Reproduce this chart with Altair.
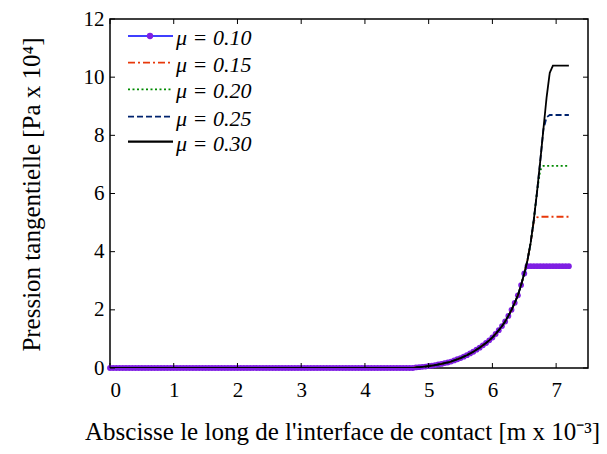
import altair as alt
import pandas as pd

# sampling grid of the curves (m x 10^-3), step 0.05 from 0 to 7.2
x_vals = [round(i * 0.05, 2) for i in range(145)]

# values (Pa x 10^4)
flat = [0.0] * 96  # x = 0.00 .. 4.75
rise = [0.02, 0.03, 0.04, 0.05, 0.07, 0.08, 0.10, 0.12, 0.14, 0.17,
        0.19, 0.22, 0.26, 0.30, 0.34, 0.39, 0.44, 0.50, 0.56, 0.63,
        0.70, 0.78, 0.86, 0.95, 1.05, 1.17, 1.30, 1.44, 1.60, 1.79,
        2.00, 2.24, 2.50, 2.85, 3.25]  # x = 4.80 .. 6.50

mu010 = flat + rise + [3.50] * 14
mu015 = flat + rise + [3.70, 4.30, 5.05, 5.18] + [5.20] * 10
mu020 = flat + rise + [3.70, 4.30, 5.10, 6.05, 6.80] + [6.95] * 9
mu025 = flat + rise + [3.70, 4.30, 5.10, 6.05, 7.10, 8.20, 8.62] + [8.70] * 7
mu030 = flat + rise + [3.70, 4.30, 5.10, 6.05, 7.10, 8.20, 9.30, 10.15, 10.40] + [10.40] * 5

labels = ["μ = 0.10", "μ = 0.15", "μ = 0.20", "μ = 0.25", "μ = 0.30"]
series = [mu010, mu015, mu020, mu025, mu030]
colors = ["#0000FF", "#E8380A", "#008A00", "#00236E", "#000000"]
dashes = [[1, 0], [7, 3, 2, 3], [2, 2.5], [6, 3], [1, 0]]
widths = [1.3, 1.8, 1.8, 1.7, 2.2]

y_ticks = [0, 2, 4, 6, 8, 10, 12]
x_ticks = [0, 1, 2, 3, 4, 5, 6, 7]

rows = []
for lab, ys in zip(labels, series):
    for xv, yv in zip(x_vals, ys):
        rows.append({"x": xv, "y": yv, "mu": lab})
df = pd.DataFrame(rows)

W, H = 478, 349
FONT = "Liberation Serif, Times New Roman, serif"

xs = alt.Scale(domain=[0, 7.5], nice=False, zero=False)
ys_ = alt.Scale(domain=[0, 12], nice=False)

x_axis = alt.Axis(values=x_ticks,
                  title="Abscisse le long de l'interface de contact [m x 10⁻³]",
                  titleX=232, titleY=71, titleBaseline="alphabetic", titleAlign="center",
                  labelFont=FONT, labelFontSize=21, labelColor="black",
                  titleFont=FONT, titleFontSize=25, titleColor="black", titleFontWeight="normal",
                  labelPadding=11, format="d")
y_axis = alt.Axis(values=y_ticks, title="Pression tangentielle [Pa x 10⁴]",
                  titleX=-79, titleY=175, titleBaseline="middle",
                  labelFont=FONT, labelFontSize=21, labelColor="black",
                  titleFont=FONT, titleFontSize=25, titleColor="black", titleFontWeight="normal",
                  labelPadding=6, format="d")

base = alt.Chart(df)

line_first = base.transform_filter(alt.datum.mu == labels[0]).mark_line(
    color=colors[0], strokeWidth=widths[0], clip=True).encode(
    x=alt.X("x:Q", scale=xs, axis=x_axis), y=alt.Y("y:Q", scale=ys_, axis=y_axis))

points = base.transform_filter(alt.datum.mu == labels[0]).mark_point(
    filled=True, color="#7F1FE3", size=34, opacity=1, shape="circle").encode(
    x=alt.X("x:Q", scale=xs, axis=x_axis), y=alt.Y("y:Q", scale=ys_, axis=y_axis))

others = base.transform_filter(alt.datum.mu != labels[0]).mark_line(clip=True).encode(
    x=alt.X("x:Q", scale=xs, axis=x_axis), y=alt.Y("y:Q", scale=ys_, axis=y_axis),
    color=alt.Color("mu:N", scale=alt.Scale(domain=labels[1:], range=colors[1:]), legend=None),
    strokeDash=alt.StrokeDash("mu:N", scale=alt.Scale(domain=labels[1:], range=dashes[1:]), legend=None),
    strokeWidth=alt.StrokeWidth("mu:N", scale=alt.Scale(domain=labels[1:], range=widths[1:]), legend=None),
    order=alt.Order("mu:N"),
)

# inward ticks
ytdf = pd.DataFrame({"y": y_ticks})
xtdf = pd.DataFrame({"x": x_ticks})
tick_l = alt.Chart(ytdf).mark_rule(color="black", strokeWidth=1).encode(
    y=alt.Y("y:Q", scale=ys_, axis=y_axis), x=alt.value(0), x2=alt.value(5))
tick_r = alt.Chart(ytdf).mark_rule(color="black", strokeWidth=1).encode(
    y=alt.Y("y:Q", scale=ys_, axis=y_axis), x=alt.value(W - 5), x2=alt.value(W))
tick_b = alt.Chart(xtdf).mark_rule(color="black", strokeWidth=1).encode(
    x=alt.X("x:Q", scale=xs, axis=x_axis), y=alt.value(H - 5), y2=alt.value(H))
tick_t = alt.Chart(xtdf).mark_rule(color="black", strokeWidth=1).encode(
    x=alt.X("x:Q", scale=xs, axis=x_axis), y=alt.value(0), y2=alt.value(5))

# legend
leg_layers = []
row_y = [17, 43.7, 70.3, 97.7, 122.7]
leg_df = pd.DataFrame({"label": labels})
for i, lab in enumerate(labels):
    ld = leg_df[leg_df["label"] == lab]
    leg_layers.append(alt.Chart(ld).mark_rule(
        color=colors[i], strokeDash=dashes[i], strokeWidth=widths[i]).encode(
        x=alt.value(18), x2=alt.value(63), y=alt.value(row_y[i])))
    leg_layers.append(alt.Chart(ld).mark_text(
        font=FONT, fontSize=22, fontStyle="italic", align="left", baseline="middle",
        color="black").encode(x=alt.value(66), y=alt.value(row_y[i] + 2), text="label:N"))
leg_dot = alt.Chart(leg_df[leg_df["label"] == labels[0]]).mark_point(
    filled=True, color="#7F1FE3", size=40, opacity=1).encode(x=alt.value(40), y=alt.value(row_y[0]))

chart = alt.layer(
    line_first, points, others, tick_l, tick_r, tick_b, tick_t, *leg_layers, leg_dot
).properties(
    width=W, height=H,
    autosize=alt.AutoSizeParams(type="none"),
    padding={"left": 102, "top": 11, "right": 11, "bottom": 78},
    background="white",
).configure(
    font=FONT
).configure_view(
    stroke="black", strokeWidth=1.5
).configure_axis(
    ticks=False, domain=False, grid=False,
    labelFont=FONT, labelFontSize=21, labelColor="black",
    titleFont=FONT, titleFontSize=25, titleColor="black", titleFontWeight="normal",
)

chart.save("out.html", embed_options={"renderer": "svg", "actions": False})
